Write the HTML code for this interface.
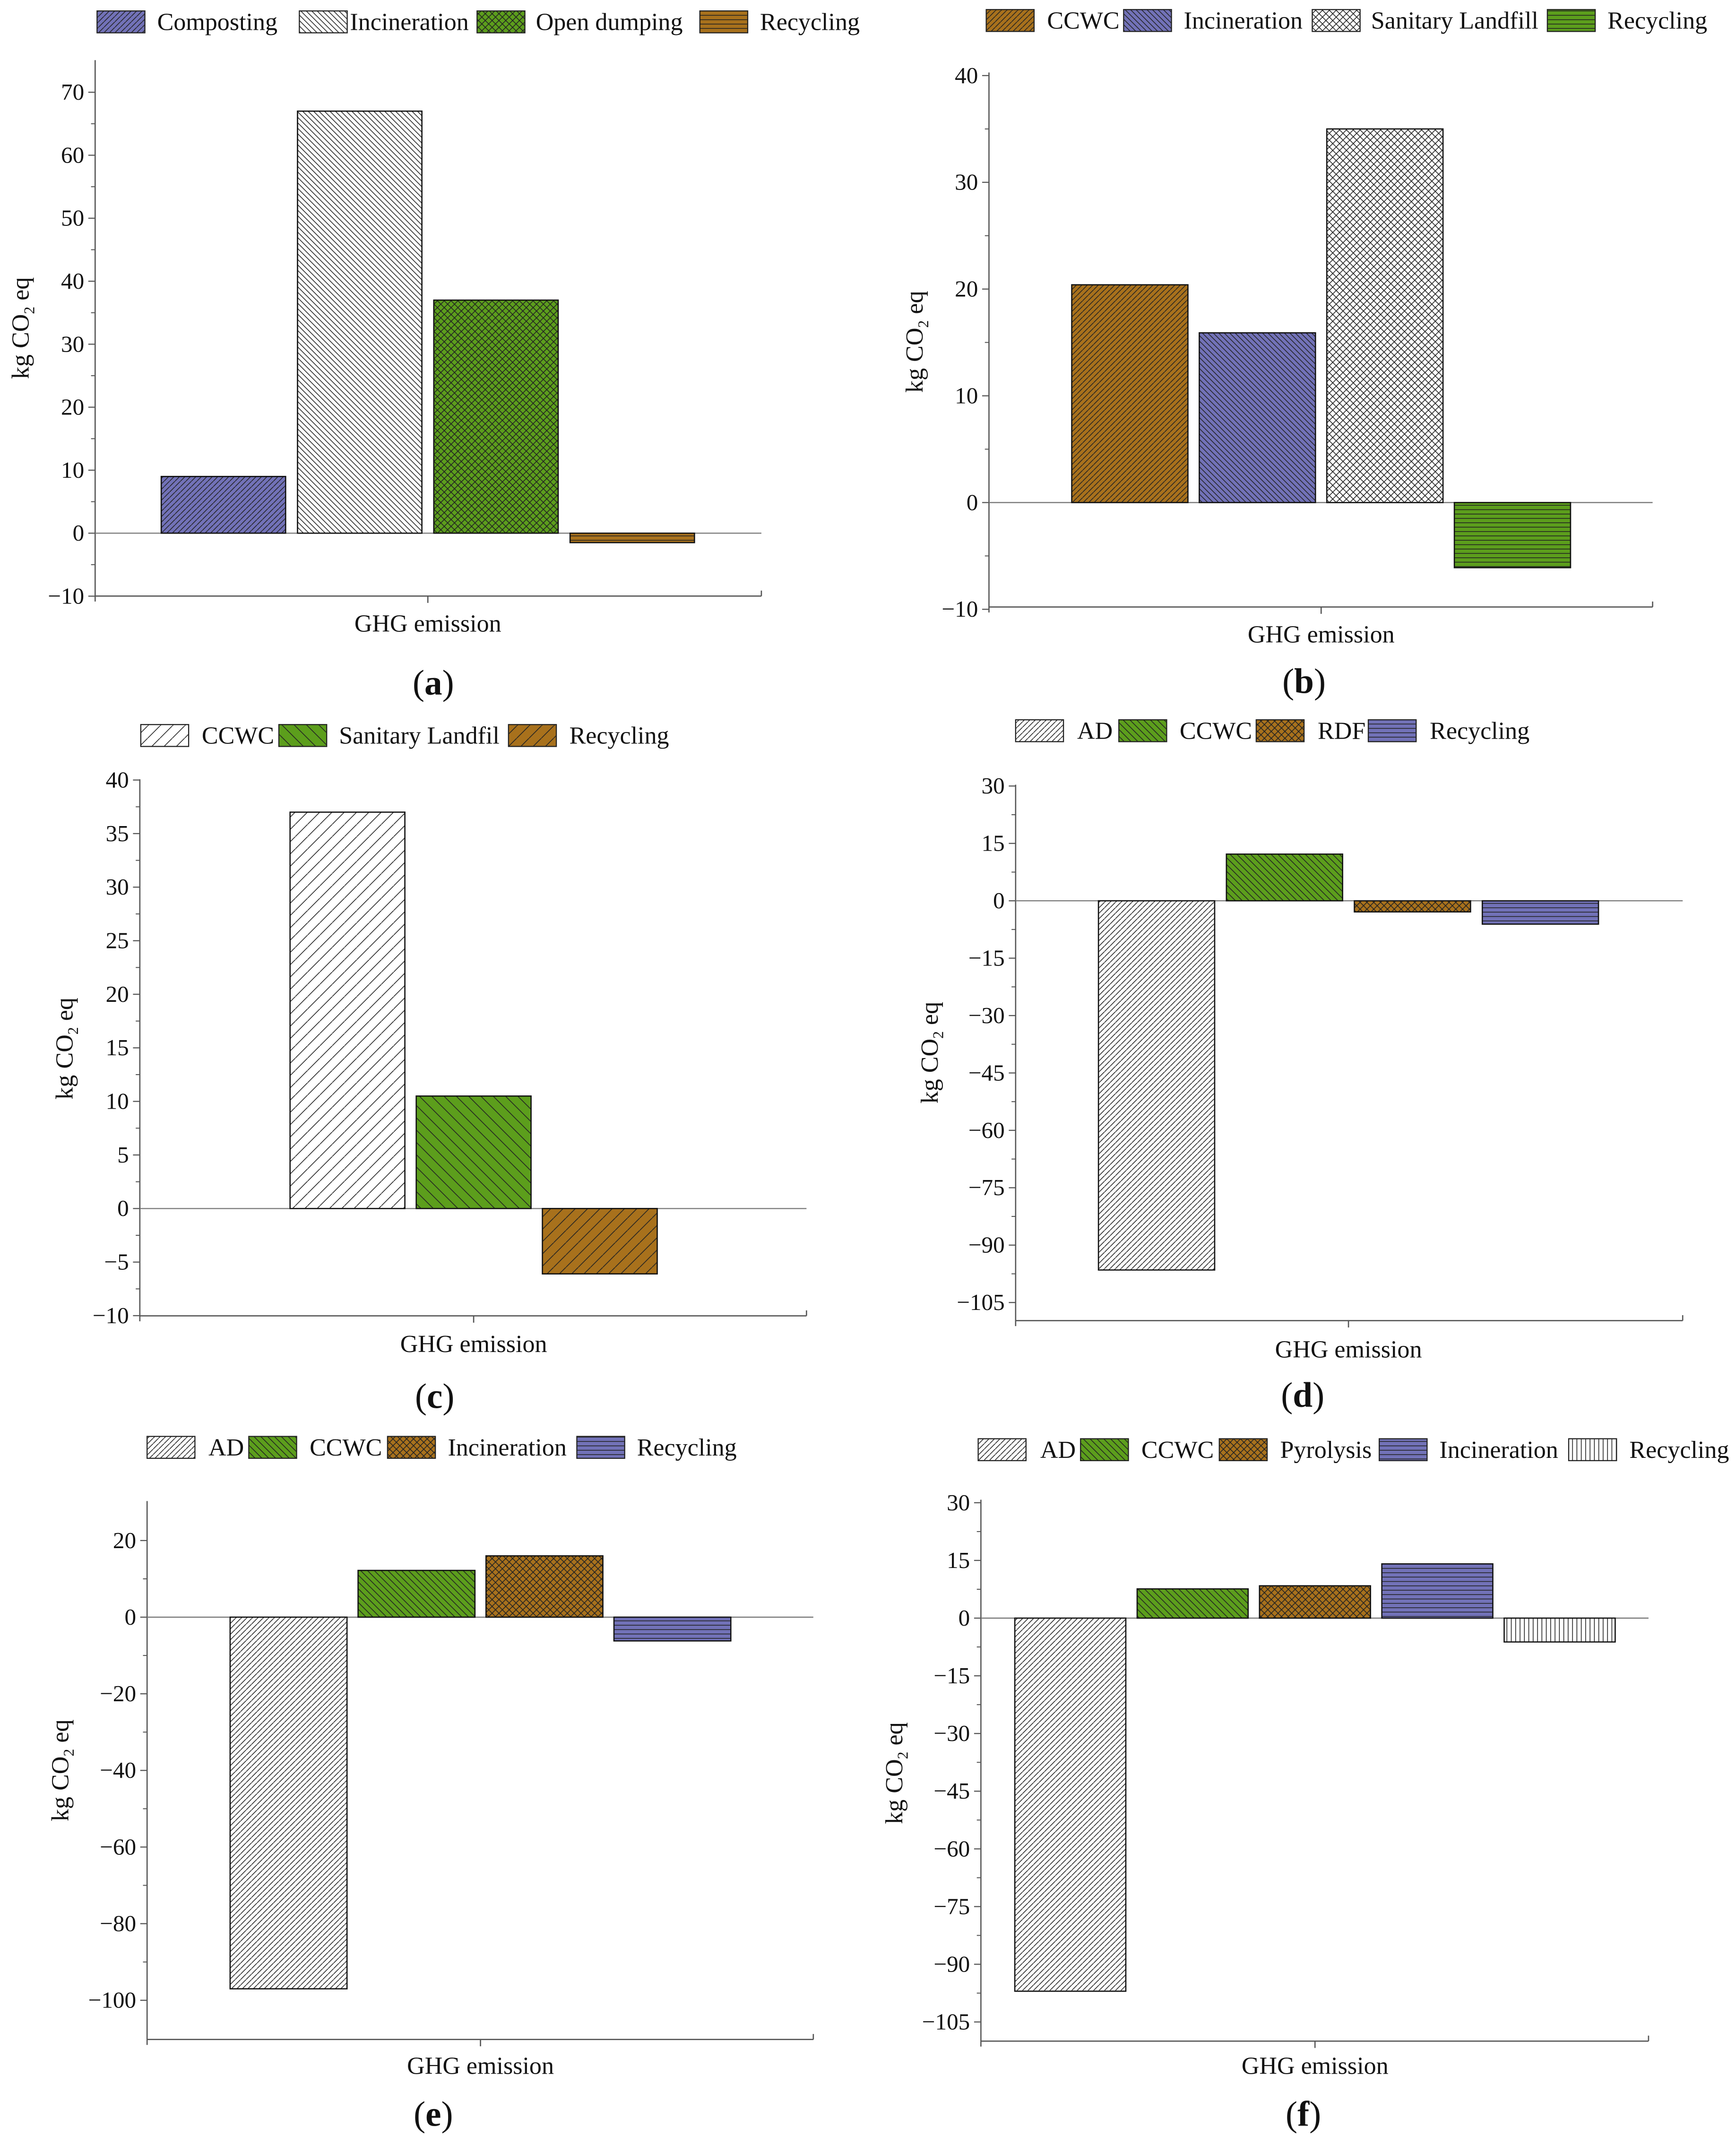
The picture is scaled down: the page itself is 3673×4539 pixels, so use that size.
<!DOCTYPE html>
<html><head><meta charset="utf-8"><style>
html,body{margin:0;padding:0;background:#fff}
svg{display:block}
svg text{font-family:"Liberation Serif","DejaVu Serif",serif;fill:#111}
</style></head><body>
<svg id="fig" width="3673" height="4539" viewBox="0 0 1270 1569" preserveAspectRatio="none" xmlns="http://www.w3.org/2000/svg" font-family="Liberation Serif, DejaVu Serif, serif">
<defs id="defs"></defs>
</svg>
<script>
// ---- data ----
const aCats = ["Composting","Incineration","Open dumping","Recycling"];
const aVals = [9, 67, 37, -1.5];
const aTicks = [70,60,50,40,30,20,10,0,-10];
const bCats = ["CCWC","Incineration","Sanitary Landfill","Recycling"];
const bVals = [20.4, 15.9, 35, -6.1];
const bTicks = [40,30,20,10,0,-10];
const cCats = ["CCWC","Sanitary Landfil","Recycling"];
const cVals = [37, 10.5, -6.1];
const cTicks = [40,35,30,25,20,15,10,5,0,-5,-10];
const dCats = ["AD","CCWC","RDF","Recycling"];
const dVals = [-96.5, 12.2, -2.9, -6.1];
const dTicks = [30,15,0,-15,-30,-45,-60,-75,-90,-105];
const eCats = ["AD","CCWC","Incineration","Recycling"];
const eVals = [-97, 12.2, 16, -6.2];
const eTicks = [20,0,-20,-40,-60,-80,-100];
const fCats = ["AD","CCWC","Pyrolysis","Incineration","Recycling"];
const fVals = [-97, 7.6, 8.4, 14.1, -6.2];
const fTicks = [30,15,0,-15,-30,-45,-60,-75,-90,-105];

const PUR="#7272b8", GRN="#5c9e1c", BRN="#a8711c", WHT="#ffffff";
const FONT="'Liberation Serif', 'DejaVu Serif', serif";
const NS="http://www.w3.org/2000/svg";
const svg=document.getElementById('fig');
const defs=document.getElementById('defs');
function mk(tag,attrs,parent){const e=document.createElementNS(NS,tag);for(const k in attrs)e.setAttribute(k,attrs[k]);if(tag==='text')e.setAttribute('font-family',FONT);(parent||svg).appendChild(e);return e;}

function pat(id,fill,type,sp){
  const p=mk('pattern',{id:id,patternUnits:'userSpaceOnUse',width:sp,height:sp},defs);
  mk('rect',{x:0,y:0,width:sp,height:sp,fill:fill},p);
  const st={stroke:'#222','stroke-width':0.55,fill:'none'};
  const L=(x1,y1,x2,y2)=>mk('line',Object.assign({x1,y1,x2,y2},st),p);
  if(type==='f'){L(0,sp,sp,0);L(-sp,sp,0,0);L(sp,2*sp,2*sp,sp);}
  if(type==='b'){L(0,0,sp,sp);L(-sp,0,0,sp);L(0,-sp,sp,0);L(sp,0,2*sp,sp);L(0,sp,sp,2*sp);}
  if(type==='x'){L(0,sp,sp,0);L(-sp,sp,0,0);L(sp,2*sp,2*sp,sp);L(0,0,sp,sp);L(0,-sp,sp,0);L(0,sp,sp,2*sp);}
  if(type==='h'){L(0,sp/2,sp,sp/2);}
  if(type==='v'){L(sp/2,0,sp/2,sp);}
  return 'url(#'+id+')';
}
const P={
  purF:pat('purF',PUR,'f',4), purB:pat('purB',PUR,'b',4), purH:pat('purH',PUR,'h',3.2),
  whtB:pat('whtB',WHT,'b',4), whtF:pat('whtF',WHT,'f',4), whtX:pat('whtX',WHT,'x',5), whtV:pat('whtV',WHT,'v',3.2),
  whtFw:pat('whtFw',WHT,'f',9),
  grnX:pat('grnX',GRN,'x',5), grnH:pat('grnH',GRN,'h',3.2), grnB:pat('grnB',GRN,'b',5), grnBw:pat('grnBw',GRN,'b',9),
  brnH:pat('brnH',BRN,'h',3.2), brnF:pat('brnF',BRN,'f',4), brnX:pat('brnX',BRN,'x',5), brnFw:pat('brnFw',BRN,'f',9)
};

function panel(cfg,cats,vals,ticks){
  const g=mk('g',{});
  
  
  const y=v=>cfg.y0 - v*cfg.k;
  const ax=mk('line',{x1:cfg.ax,y1:cfg.top,x2:cfg.ax,y2:cfg.bot,stroke:'#555','stroke-width':0.9},g);
  
  
  const xa=mk('line',{x1:cfg.ax,y1:cfg.bot,x2:cfg.right,y2:cfg.bot,stroke:'#555','stroke-width':0.9},g);
  
  
  mk('line',{x1:cfg.ax,y1:cfg.bot,x2:cfg.ax,y2:cfg.bot+4,stroke:'#555','stroke-width':0.9},g);
  mk('line',{x1:cfg.right,y1:cfg.bot,x2:cfg.right,y2:cfg.bot-4,stroke:'#555','stroke-width':0.9},g);
  mk('line',{x1:cfg.cx,y1:cfg.bot,x2:cfg.cx,y2:cfg.bot+5,stroke:'#555','stroke-width':0.9},g);
  const zl=mk('line',{x1:cfg.ax,y1:y(0),x2:cfg.right,y2:y(0),stroke:'#777','stroke-width':0.8},g);
  
  
  ticks.forEach((t,i)=>{
    mk('line',{x1:cfg.ax-5,y1:y(t),x2:cfg.ax,y2:y(t),stroke:'#555','stroke-width':0.8},g);
    const tx=mk('text',{x:cfg.ax-8,y:y(t)+5.5,'text-anchor':'end','font-size':17},g);
    tx.textContent=(t<0?'\u2212'+(-t):''+t);
    
    
    if(i<ticks.length-1){const m=(t+ticks[i+1])/2;
      mk('line',{x1:cfg.ax-3,y1:y(m),x2:cfg.ax,y2:y(m),stroke:'#555','stroke-width':0.7},g);}
  });
  const n=vals.length;
  vals.forEach((v,i)=>{
    const x=cfg.cx-(n*cfg.step)/2+i*cfg.step+(cfg.step-cfg.bw)/2;
    const r=mk('rect',{x:x,y:Math.min(y(v),y(0)),width:cfg.bw,height:Math.abs(y(v)-y(0)),fill:cfg.fills[i],stroke:'#111','stroke-width':0.9},g);
    
    
  });
  cats.forEach((c,i)=>{
    const sx=cfg.leg[i][0];
    const sw=mk('rect',{x:sx,y:cfg.ly-8,width:35,height:16,fill:cfg.fills[i],stroke:'#222','stroke-width':0.8},g);
    
    
    const lt=mk('text',{x:cfg.leg[i][1],y:cfg.ly+6,'font-size':18},g);
    lt.textContent=c;
    
    
  });
  const xl=mk('text',{x:cfg.cx,y:cfg.xly,'text-anchor':'middle','font-size':18},g);
  xl.textContent='GHG emission';
  
  
  const yl=mk('text',{x:0,y:0,'text-anchor':'middle','font-size':18,transform:'translate('+cfg.ylx+','+cfg.yly+') rotate(-90)'},g);
  yl.innerHTML='kg CO<tspan font-size="11" dy="4">2</tspan><tspan dy="-4"> eq</tspan>';
  
  
  const cap=mk('text',{x:cfg.capx,y:cfg.capy,'text-anchor':'middle','font-size':26},g);
  cap.innerHTML='(<tspan font-weight="bold">'+cfg.id+'</tspan>)';
  
  
}

panel({id:'a',ax:69.6,right:557,top:44,bot:436,y0:390,k:(436-67.4)/80,cx:313,bw:91,step:99.7,
  fills:[P.purF,P.whtB,P.grnX,P.brnH],ly:16,leg:[[71,115],[219,256],[349,392],[512,556]],
  xly:462,ylx:21,yly:240,capx:317,capy:508},aCats,aVals,aTicks);
panel({id:'b',ax:723.5,right:1209,top:53,bot:444,y0:367.6,k:(444-53.6)/50,cx:966.5,bw:85,step:93.3,
  fills:[P.brnF,P.purB,P.whtX,P.grnH],ly:15,leg:[[721.5,766],[822,866],[960,1003],[1132,1176]],
  xly:470,ylx:675,yly:250,capx:954,capy:507},bCats,bVals,bTicks);
panel({id:'c',ax:102.3,right:590,top:570,bot:962.5,y0:884,k:(962.5-570.7)/50,cx:346.5,bw:84,step:92.3,
  fills:[P.whtFw,P.grnBw,P.brnFw],ly:538,leg:[[103,147.6],[204,248],[372,416.5]],
  xly:989,ylx:53,yly:767,capx:318,capy:1030},cCats,cVals,cTicks);
panel({id:'d',ax:743,right:1231,top:574,bot:966,y0:658.9,k:(952.4-574.6)/135,cx:986.5,bw:85,step:93.6,
  fills:[P.whtF,P.grnB,P.brnX,P.purH],ly:534.5,leg:[[743,788],[818.5,863],[919,964],[1001,1046]],
  xly:993,ylx:686,yly:770,capx:953,capy:1029},dCats,dVals,dTicks);
panel({id:'e',ax:107.6,right:595,top:1098,bot:1491.8,y0:1182.9,k:(1462.9-1126.6)/120,cx:351.5,bw:85.5,step:93.6,
  fills:[P.whtF,P.grnB,P.brnX,P.purH],ly:1058.7,leg:[[107.6,152.5],[182,226.5],[283.5,327.6],[422,466]],
  xly:1517,ylx:50,yly:1295,capx:317,capy:1555},eCats,eVals,eTicks);
panel({id:'f',ax:717.6,right:1206,top:1097,bot:1493,y0:1183.6,k:(1478.5-1098.7)/135,cx:962,bw:81.2,step:89.5,
  fills:[P.whtF,P.grnB,P.brnX,P.purH,P.whtV],ly:1060.4,leg:[[715.6,761],[790.5,835],[892,936.5],[1009,1053],[1147.6,1192]],
  xly:1517,ylx:660,yly:1297,capx:953.5,capy:1555},fCats,fVals,fTicks);
</script>
</body></html>
